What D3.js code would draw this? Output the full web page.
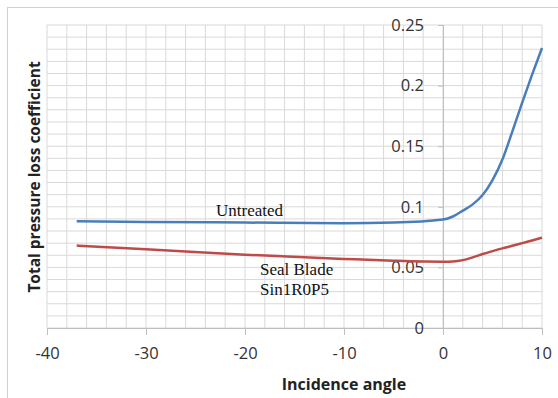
<!DOCTYPE html>
<html>
<head>
<meta charset="utf-8">
<script src="https://cdn.jsdelivr.net/npm/d3@7"></script>
<style>
  body { margin: 0; background: #fff; }
  svg text { font-family: "Open Sans", sans-serif; }
</style>
</head>
<body>
<svg id="chart"></svg>
<script>
const incidence = [-37, -30, -20, -10, -5, 0, 1, 2, 3, 4, 5, 6, 7, 8, 9, 10]
const untreated = [0.088, 0.0875, 0.087, 0.0865, 0.087, 0.0895, 0.092, 0.0968, 0.102, 0.1097, 0.122, 0.139, 0.162, 0.186, 0.209, 0.231]
const sealBlade = [0.068, 0.065, 0.0605, 0.057, 0.0555, 0.0547, 0.0549, 0.056, 0.0583, 0.061, 0.0634, 0.0657, 0.0678, 0.070, 0.0722, 0.0745]
const xTicks = [-40, -30, -20, -10, 0, 10]
const yTicks = [0, 0.05, 0.1, 0.15, 0.2, 0.25]

const width = 558
const height = 398
const colours = {
  grid: '#d9d9d9',
  axis: '#bfbfbf',
  text: '#333333',
  blue: '#4a7ebb',
  red: '#be4b48'
}

const svg = d3.select('#chart')
  .attr('width', width)
  .attr('height', height)

// outer frame
svg.append('rect')
  .attr('x', 7.5).attr('y', 7.5)
  .attr('width', 560).attr('height', 400)
  .attr('fill', 'none')
  .attr('stroke', '#d0d0d0')

const x = d3.scaleLinear().domain([-40, 10]).range([47, 542])
const y = d3.scaleLinear().domain([0, 0.25]).range([328, 25])

// minor grid
const grid = svg.append('g')
grid.selectAll('line.v')
  .data(d3.range(-40, 10.1, 2))
  .enter().append('line')
  .attr('x1', d => x(d)).attr('x2', d => x(d))
  .attr('y1', y(0)).attr('y2', y(0.25))
  .attr('stroke', colours.grid)
grid.selectAll('line.h')
  .data(d3.range(0, 0.2501, 0.01))
  .enter().append('line')
  .attr('x1', x(-40)).attr('x2', x(10))
  .attr('y1', d => y(d)).attr('y2', d => y(d))
  .attr('stroke', colours.grid)

// x axis on y = 0
const xAxis = svg.append('g')
  .attr('transform', `translate(0,${y(0)})`)
  .call(d3.axisBottom(x).tickValues(xTicks).tickSize(7).tickPadding(12).tickFormat(d => String(d)))
xAxis.select('.domain').attr('stroke', colours.axis)
xAxis.selectAll('.tick line').attr('stroke', colours.axis)
xAxis.selectAll('text').attr('fill', colours.text).style('font-size', '16.5px')

// y axis on x = 0
const yAxis = svg.append('g')
  .attr('transform', `translate(${x(0)},0)`)
  .call(d3.axisLeft(y).tickValues(yTicks).tickSize(5).tickPadding(14).tickFormat(d => String(d)))
yAxis.select('.domain').attr('stroke', colours.axis)
yAxis.selectAll('.tick line').attr('stroke', colours.axis)
yAxis.selectAll('text').attr('fill', colours.text).style('font-size', '16.5px')

const line = d3.line()
  .x((d, i) => x(incidence[i]))
  .y(d => y(d))
  .curve(d3.curveMonotoneX)

svg.append('path')
  .attr('d', line(sealBlade))
  .attr('fill', 'none')
  .attr('stroke', colours.red)
  .attr('stroke-width', 2.5)

svg.append('path')
  .attr('d', line(untreated))
  .attr('fill', 'none')
  .attr('stroke', colours.blue)
  .attr('stroke-width', 2.5)

// annotations
const note = (tx, ty, s) => svg.append('text')
  .attr('x', tx).attr('y', ty)
  .style('font-family', '"Liberation Serif", "Times New Roman", serif')
  .style('font-size', '17px')
  .attr('fill', '#111')
  .text(s)
note(216, 216, 'Untreated')
note(260, 275, 'Seal Blade')
note(260, 295, 'Sin1R0P5')

// axis titles
svg.append('text')
  .attr('x', 344).attr('y', 390)
  .attr('text-anchor', 'middle')
  .style('font-size', '16px').style('font-weight', 'bold')
  .attr('fill', '#222')
  .text('Incidence angle')

svg.append('text')
  .attr('transform', 'translate(40,177) rotate(-90)')
  .attr('text-anchor', 'middle')
  .style('font-size', '15.5px').style('font-weight', 'bold')
  .attr('fill', '#222')
  .text('Total pressure loss coefficient')
</script>
</body>
</html>
